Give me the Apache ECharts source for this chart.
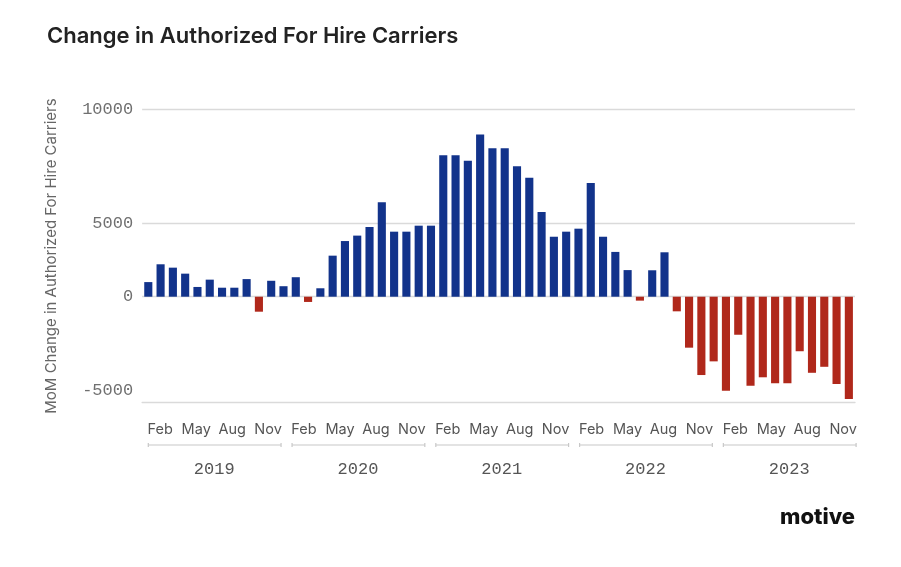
<!DOCTYPE html>
<html>
<head>
<meta charset="utf-8">
<script src="https://cdn.jsdelivr.net/npm/echarts@6/dist/echarts.min.js"></script>
<style>
  html, body { margin: 0; padding: 0; background: #ffffff; }
  #chart { width: 901px; height: 567px; }
</style>
</head>
<body>
<div id="chart"></div>
<script>
// ---- Data ----
const chartTitle = 'Change in Authorized For Hire Carriers';
const yAxisTitle = 'MoM Change in Authorized For Hire Carriers';
const monthNames = ['Jan','Feb','Mar','Apr','May','Jun','Jul','Aug','Sep','Oct','Nov','Dec'];
const years = ['2019','2020','2021','2022','2023'];

// Bars: Feb 2019 .. Nov 2023 (58 months)
const barMonths = [
  'Feb 2019','Mar 2019','Apr 2019','May 2019','Jun 2019','Jul 2019','Aug 2019','Sep 2019','Oct 2019','Nov 2019','Dec 2019',
  'Jan 2020','Feb 2020','Mar 2020','Apr 2020','May 2020','Jun 2020','Jul 2020','Aug 2020','Sep 2020','Oct 2020','Nov 2020','Dec 2020',
  'Jan 2021','Feb 2021','Mar 2021','Apr 2021','May 2021','Jun 2021','Jul 2021','Aug 2021','Sep 2021','Oct 2021','Nov 2021','Dec 2021',
  'Jan 2022','Feb 2022','Mar 2022','Apr 2022','May 2022','Jun 2022','Jul 2022','Aug 2022','Sep 2022','Oct 2022','Nov 2022','Dec 2022',
  'Jan 2023','Feb 2023','Mar 2023','Apr 2023','May 2023','Jun 2023','Jul 2023','Aug 2023','Sep 2023','Oct 2023','Nov 2023'
];
const momChange = [
  780, 1730, 1550, 1230, 520, 910, 480, 480, 940, -800, 850,
  560, 1040, -280, 450, 2190, 2970, 3260, 3720, 5040, 3470, 3470, 3790,
  3790, 7550, 7550, 7260, 8650, 7920, 7920, 6960, 6350, 4520, 3200, 3470,
  3630, 6070, 3200, 2390, 1420, -210, 1410, 2370, -780, -2720, -4180, -3450,
  -5020, -2030, -4750, -4300, -4620, -4620, -2910, -4060, -3740, -4660, -5460
];

// Axis tick labels as printed; the reference's middle gridline sits below a linear 5000
const yTickLabels = ['10000', '5000', '0', '-5000'];
const yTickValues = [10000, 3917, 0, -5000];
const yGridValues = [10000, 3917, 0];
const yMin = -5656, yMax = 10000;

// Month slots of the lower (label) axis: Jan 2019 .. Dec 2023
const labelSlots = [];
years.forEach(y => monthNames.forEach(m => labelSlots.push(m + ' ' + y)));
const shownMonths = ['Feb', 'May', 'Aug', 'Nov'];

const BLUE = '#12338b';
const RED = '#b0281b';
const GRID = '#dadada';
const MONO = '"Liberation Mono", "DejaVu Sans Mono", monospace';
const SANS = 'Inter, "Noto Sans", sans-serif';

const chart = echarts.init(document.getElementById('chart'), null, { renderer: 'canvas' });

const option = {
  backgroundColor: '#ffffff',
  animation: false,
  title: [{
    text: chartTitle,
    left: 47,
    top: 25,
    padding: 0,
    textStyle: { fontFamily: SANS, fontSize: 22, fontWeight: 600, color: '#222222' }
  }],
  graphic: [{
    type: 'text',
    right: 46,
    top: 506,
    style: {
      text: 'motive',
      fontFamily: SANS,
      fontSize: 22,
      fontWeight: 800,
      fill: '#111111'
    }
  }],
  grid: [
    { left: 142.15, right: 46, top: 109.3, bottom: 164.3, containLabel: false },
    { left: 142.3, right: 39.9, top: 444, height: 1, containLabel: false }
  ],
  xAxis: [
    {
      type: 'category',
      gridIndex: 0,
      data: barMonths,
      axisLine: { show: true, onZero: false, lineStyle: { color: GRID, width: 1.4 } },
      axisTick: { show: false },
      axisLabel: { show: false },
      splitLine: { show: false }
    },
    {
      type: 'category',
      gridIndex: 1,
      position: 'top',
      data: labelSlots,
      axisLine: { show: false },
      axisTick: { show: false },
      splitLine: { show: false },
      axisLabel: {
        interval: (idx) => shownMonths.indexOf(monthNames[idx % 12]) >= 0,
        formatter: (v) => v.split(' ')[0],
        margin: 7,
        fontFamily: SANS,
        fontSize: 14.5,
        color: '#555555'
      }
    },
    {
      type: 'category',
      gridIndex: 1,
      position: 'bottom',
      data: years,
      axisLine: { show: false },
      axisTick: { show: false },
      splitLine: { show: false },
      axisLabel: {
        margin: 16,
        fontFamily: MONO,
        fontSize: 17,
        color: '#555555'
      }
    }
  ],
  yAxis: [
    {
      type: 'value',
      gridIndex: 0,
      min: yMin,
      max: yMax,
      name: yAxisTitle,
      nameLocation: 'middle',
      nameGap: 83,
      nameRotate: 90,
      nameTextStyle: { fontFamily: SANS, fontSize: 15, color: '#666666' },
      axisLine: { show: false },
      axisTick: { show: false, customValues: yGridValues },
      splitLine: { show: true, lineStyle: { color: GRID, width: 1.4 } },
      axisLabel: {
        customValues: yTickValues,
        formatter: (v) => yTickLabels[yTickValues.indexOf(v)],
        margin: 9,
        fontFamily: MONO,
        fontSize: 17,
        color: '#707070'
      }
    },
    {
      type: 'value',
      gridIndex: 1,
      min: 0,
      max: 1,
      show: false
    }
  ],
  series: [
    {
      type: 'bar',
      xAxisIndex: 0,
      yAxisIndex: 0,
      data: momChange,
      barWidth: '66%',
      itemStyle: {
        color: (p) => (p.value >= 0 ? BLUE : RED)
      },
      silent: true
    },
    {
      type: 'custom',
      xAxisIndex: 2,
      yAxisIndex: 1,
      data: years.map(y => [y, 0]),
      silent: true,
      clip: false,
      renderItem: (params, api) => {
        const c = api.coord([api.value(0), 0]);
        const w = api.size([1, 0])[0];
        const x1 = c[0] - w / 2 + 6;
        const x2 = c[0] + w / 2 - 5;
        const y = c[1];
        const st = { stroke: '#c8c8c8', lineWidth: 1.2 };
        return {
          type: 'group',
          children: [
            { type: 'line', shape: { x1: x1, y1: y, x2: x2, y2: y }, style: st },
            { type: 'line', shape: { x1: x1, y1: y - 2, x2: x1, y2: y + 2 }, style: st },
            { type: 'line', shape: { x1: x2, y1: y - 2, x2: x2, y2: y + 2 }, style: st }
          ]
        };
      }
    }
  ]
};

chart.setOption(option);
</script>
</body>
</html>
